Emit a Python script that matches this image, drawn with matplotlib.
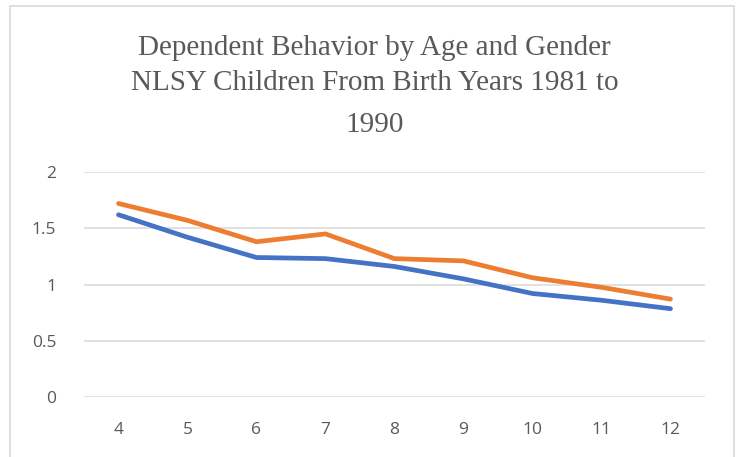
import matplotlib.pyplot as plt
from matplotlib.patches import Rectangle

# DATA
ages = ['4', '5', '6', '7', '8', '9', '10', '11', '12']
series_blue = [1.62, 1.42, 1.24, 1.23, 1.16, 1.05, 0.92, 0.86, 0.785]
series_orange = [1.72, 1.57, 1.38, 1.45, 1.23, 1.21, 1.06, 0.975, 0.87]

title_lines = ['Dependent Behavior by Age and Gender',
               'NLSY Children From Birth Years 1981 to',
               '1990']

TEXT = '#595959'
GRID = '#d9d9d9'

fig = plt.figure(figsize=(7.4, 4.57), dpi=100)
ax = fig.add_axes([0.1135, 0.1313, 0.8392, 0.4923])

x = range(len(ages))
ax.plot(x, series_blue, color='#4472C4', linewidth=3.4, solid_capstyle='round',
        solid_joinstyle='round')
ax.plot(x, series_orange, color='#ED7D31', linewidth=3.4, solid_capstyle='round',
        solid_joinstyle='round')

ax.set_xlim(-0.5, len(ages) - 0.5)
ax.set_ylim(0, 2)
ax.set_yticks([0, 0.5, 1, 1.5, 2])
ax.set_yticklabels(['0', '0.5', '1', '1.5', '2'])
ax.set_xticks(list(x))
ax.set_xticklabels(ages)
ax.yaxis.grid(True, color=GRID, linewidth=1.1)
ax.set_axisbelow(True)
for s in ax.spines.values():
    s.set_visible(False)
ax.tick_params(length=0, labelsize=12.5, colors=TEXT)
ax.tick_params(axis='x', pad=18)
ax.tick_params(axis='y', pad=20)
for lab in ax.get_xticklabels() + ax.get_yticklabels():
    lab.set_fontfamily('Open Sans')

# title, three lines like the original
ys = [0.895, 0.818, 0.727]
for t, y in zip(title_lines, ys):
    fig.text(0.506, y, t, ha='center', va='center', fontsize=21,
             family='Liberation Serif', color=TEXT)

# chart border
fig.patches.append(Rectangle((10 / 740, -0.05), 724 / 740, 1 - 6 / 457 + 0.05,
                             transform=fig.transFigure, fill=False,
                             edgecolor=GRID, linewidth=1.2))

plt.savefig('out.png', dpi=100)
